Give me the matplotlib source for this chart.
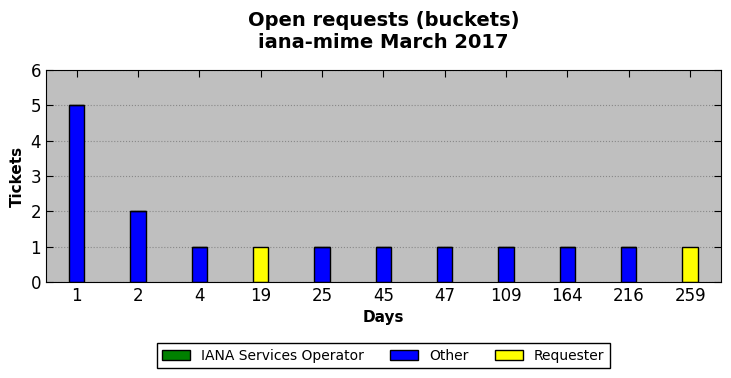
import matplotlib
matplotlib.use("Agg")
import matplotlib.pyplot as plt
import numpy as np

# ticket buckets (days open)
days = ["1", "2", "4", "19", "25", "45", "47", "109", "164", "216", "259"]
iana = [0, 0, 0, 0, 0, 0, 0, 0, 0, 0, 0]
other = [5, 2, 1, 0, 1, 1, 1, 1, 1, 1, 0]
requester = [0, 0, 0, 1, 0, 0, 0, 0, 0, 0, 1]

fig = plt.figure(figsize=(7.31, 3.78), dpi=100)
ax = fig.add_axes([0.063, 0.254, 0.923, 0.561])
ax.set_facecolor("#bfbfbf")

x = np.arange(len(days))
w = 0.25
iana = np.array(iana)
other = np.array(other)
requester = np.array(requester)

ax.bar(x, iana, w, color="green", edgecolor="black", label="IANA Services Operator")
ax.bar(x, other, w, bottom=iana, color="blue", edgecolor="black", label="Other")
ax.bar(x, requester, w, bottom=iana + other, color="yellow", edgecolor="black", label="Requester")

ax.set_xlim(-0.5, len(days) - 0.5)
ax.set_ylim(0, 6)
ax.set_xticks(x)
ax.set_xticklabels(days)
ax.set_yticks(range(7))
ax.tick_params(direction="in", top=True, right=True, labelsize=12, length=5)
ax.yaxis.grid(True, linestyle=":", color="#888888")
ax.set_axisbelow(True)

ax.set_xlabel("Days", fontweight="bold", fontsize=11)
ax.set_ylabel("Tickets", fontweight="bold", fontsize=11)
fig.suptitle("Open requests (buckets)\niana-mime March 2017", fontweight="bold", fontsize=14,
             x=0.5245, y=0.972)

fig.legend(loc="lower center", ncol=3, bbox_to_anchor=(0.5245, 0.007), fontsize=10,
           fancybox=False, edgecolor="black", handlelength=2, columnspacing=1.9, framealpha=1)

fig.savefig("out.png", dpi=100)
